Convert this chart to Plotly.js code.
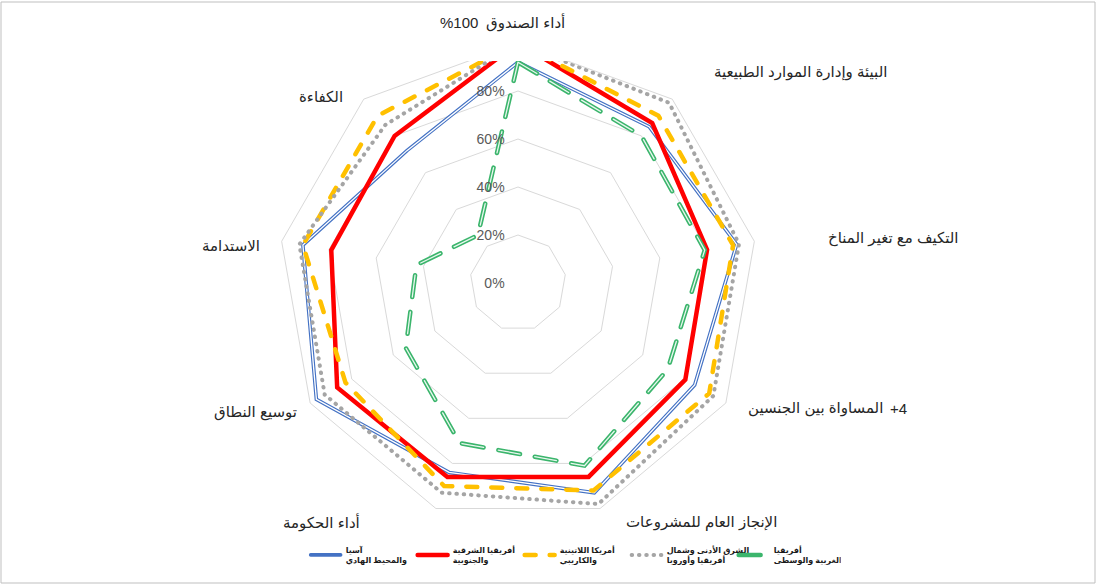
<!DOCTYPE html>
<html>
<head>
<meta charset="utf-8">
<script src="https://cdn.plot.ly/plotly-3.0.1.min.js"></script>
<style>
  html, body { margin: 0; padding: 0; background: #fff; }
  #chart { width: 1098px; height: 585px; }
  .js-line { stroke-linecap: round; }
</style>
</head>
<body>
<div id="chart"></div>
<script>
// ---- Data ----
var categories = [
  'أداء الصندوق',
  'البيئة وإدارة الموارد الطبيعية',
  'التكيف مع تغير المناخ',
  'المساواة بين الجنسين',
  'الإنجاز العام للمشروعات',
  'أداء الحكومة',
  'توسيع النطاق',
  'الاستدامة',
  'الكفاءة'
];
// extra text pieces shown beside two category labels
var categorySuffix = ['%100', '', '', '+4', '', '', '', '', ''];

var seriesNames = [
  'آسيا<br>والمحيط الهادي',
  'أفريقيا الشرقية<br>والجنوبية',
  'أمريكا اللاتينية<br>والكاريبي',
  'الشرق الأدنى وشمال<br>أفريقيا وأوروبا',
  'أفريقيا<br>الغربية والوسطى'
];
var asiaPacific   = [0.92, 0.85, 0.925, 0.85, 0.93, 0.84, 0.97, 0.91, 0.72];
var eastSouthAfr  = [1.00, 0.87, 0.80, 0.805, 0.86, 0.86, 0.87, 0.79, 0.80];
var latinAmerica  = [1.00, 0.91, 0.91, 0.92, 0.92, 0.90, 0.83, 0.91, 0.91];
var nearEast      = [1.00, 0.98, 0.935, 0.94, 0.98, 0.93, 0.93, 0.925, 0.86];
var westCentral   = [0.92, 0.80, 0.79, 0.72, 0.81, 0.71, 0.54, 0.43, 0.26];

var radialTickVals = [0, 0.2, 0.4, 0.6, 0.8];
var radialTickText = ['0%', '20%', '40%', '60%', '80%'];

// ---- Layout helpers (positions in px of the 1098x585 canvas) ----
var W = 1098, H = 585;
// [anchor x, center y, anchor]
var labelPos = [
  [484, 23, 'left'], [800, 72, 'center'], [893, 238, 'center'], [885, 408, 'right'],
  [701, 522, 'center'], [321, 522, 'center'], [255, 412, 'center'], [231, 245, 'center'],
  [321, 97, 'center']
];
// [anchor x, anchor] for the suffix pieces
var suffixPos = [[480, 'right'], null, null, [888, 'left'], null, null, null, null, null];

function closeLoop(a) { return a.concat([a[0]]); }
var theta = closeLoop(categories);

function trace(r, name, color, width, dash, showlegend) {
  return {
    type: 'scatterpolar',
    mode: 'lines',
    r: closeLoop(r),
    theta: theta,
    name: name,
    showlegend: showlegend,
    hoverinfo: 'skip',
    line: { color: color, width: width, dash: dash }
  };
}

var greenDash = '22px,15px';
var data = [
  trace(asiaPacific, seriesNames[0], '#4472C4', 3.6, 'solid', true),
  trace(asiaPacific, '', '#FFFFFF', 1.3, 'solid', false),
  trace(eastSouthAfr, seriesNames[1], '#FF0000', 4.5, 'solid', true),
  trace(latinAmerica, seriesNames[2], '#FFC000', 4.5, '11px,14px', true),
  trace(nearEast, seriesNames[3], '#A5A5A5', 4, '0.5px,6.8px', true),
  trace(westCentral, seriesNames[4], '#3BB56C', 4.5, greenDash, true),
  trace(westCentral, '', '#E8F7EE', 1.3, greenDash, false)
];

var labelFont = { family: 'Arial, "DejaVu Sans", sans-serif', size: 15, color: '#262626' };
var annotations = [];
categories.forEach(function (t, i) {
  annotations.push({
    text: t,
    xref: 'paper', yref: 'paper',
    x: labelPos[i][0] / W, y: 1 - labelPos[i][1] / H,
    xanchor: labelPos[i][2], yanchor: 'middle',
    showarrow: false,
    font: labelFont
  });
  if (categorySuffix[i]) {
    annotations.push({
      text: categorySuffix[i],
      xref: 'paper', yref: 'paper',
      x: suffixPos[i][0] / W, y: 1 - labelPos[i][1] / H,
      xanchor: suffixPos[i][1], yanchor: 'middle',
      showarrow: false,
      font: labelFont
    });
  }
});

var layout = {
  width: W, height: H,
  margin: { l: 0, r: 0, t: 0, b: 0 },
  paper_bgcolor: '#FFFFFF',
  showlegend: true,
  polar: {
    domain: { x: [278 / W, 758 / W], y: [(H - 523) / H, (H - 43) / H] },
    bgcolor: '#FFFFFF',
    gridshape: 'linear',
    radialaxis: {
      range: [0, 1],
      angle: 90,
      side: 'counterclockwise',
      tickangle: 90,
      tickvals: radialTickVals,
      ticktext: radialTickText,
      showline: false,
      ticks: 'outside',
      ticklen: 8,
      tickcolor: 'rgba(0,0,0,0)',
      gridcolor: '#D9D9D9',
      gridwidth: 1,
      tickfont: { family: 'Arial, "Liberation Sans", sans-serif', size: 14, color: '#595959' }
    },
    angularaxis: {
      direction: 'clockwise',
      rotation: 90,
      showgrid: false,
      showline: true,
      linecolor: '#D9D9D9',
      linewidth: 1,
      showticklabels: false,
      ticks: ''
    }
  },
  legend: {
    orientation: 'h',
    x: 0.522, xanchor: 'center',
    y: (H - 555) / H, yanchor: 'middle',
    entrywidth: 62,
    entrywidthmode: 'pixels',
    font: { family: 'Arial, "DejaVu Sans", sans-serif', size: 8, color: '#1a1a1a', weight: 'bold' },
    bgcolor: 'rgba(0,0,0,0)'
  },
  annotations: annotations,
  shapes: [
    { type: 'rect', xref: 'paper', yref: 'paper', layer: 'above',
      x0: 0.2, x1: 0.8, y0: (H - 61) / H, y1: 1,
      fillcolor: '#FFFFFF', line: { width: 0 } },
    { type: 'rect', xref: 'paper', yref: 'paper', layer: 'above',
      x0: 1 / W, x1: (W - 3) / W, y0: 2 / H, y1: (H - 2) / H,
      fillcolor: 'rgba(0,0,0,0)', line: { color: '#BFBFBF', width: 1 } }
  ]
};

Plotly.newPlot('chart', data, layout, { displayModeBar: false, staticPlot: true });
</script>
</body>
</html>
